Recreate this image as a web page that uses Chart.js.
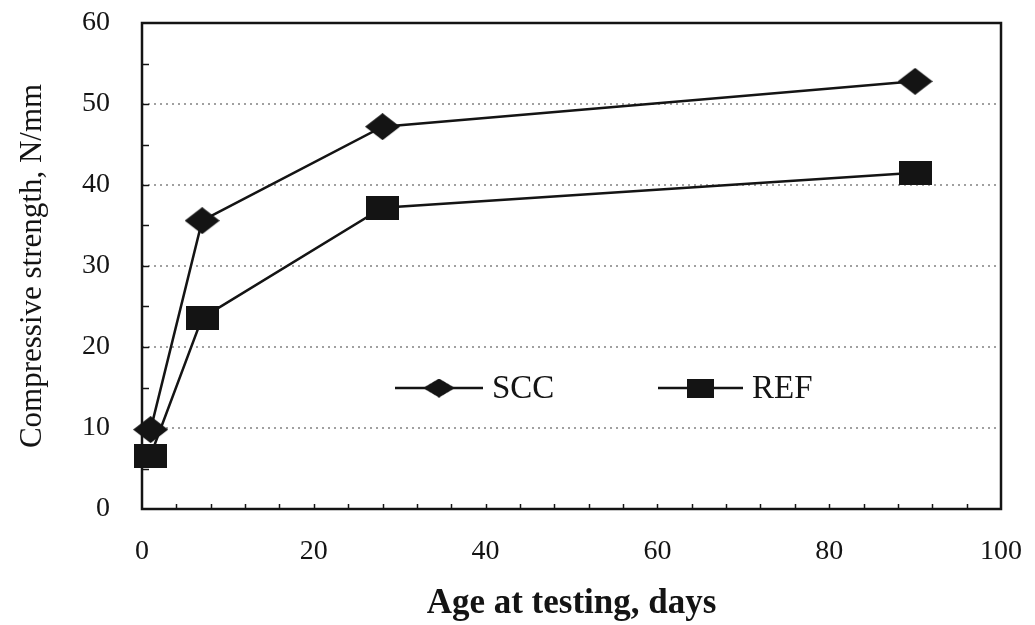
<!DOCTYPE html>
<html>
<head>
<meta charset="utf-8">
<script src="https://cdn.jsdelivr.net/npm/chart.js@4.4.1/dist/chart.umd.min.js"></script>
<style>
  html, body { margin: 0; padding: 0; background: #fff; }
  #wrap { width: 1035px; height: 625px; }
</style>
</head>
<body>
<div id="wrap"><canvas id="chart" width="1035" height="625"></canvas></div>
<script>
// Compressive strength vs age

const ageDays = [1, 7, 28, 90];
const sccStrength = [9.8, 35.6, 47.2, 52.8];
const refStrength = [6.6, 23.6, 37.2, 41.5];
const seriesNames = ['SCC', 'REF'];

const yTicks = [0, 10, 20, 30, 40, 50, 60];
const xTicks = [0, 20, 40, 60, 80, 100];

const INK = '#141414';
const SERIF = "'Liberation Serif', 'Times New Roman', serif";

// marker shapes look a bit wide in the original scan
function diamond(w, h){
  const c = document.createElement('canvas');
  c.width = w; c.height = h;
  const g = c.getContext('2d');
  g.fillStyle = INK;
  g.beginPath();
  g.moveTo(w/2, 0); g.lineTo(w, h/2); g.lineTo(w/2, h); g.lineTo(0, h/2);
  g.closePath(); g.fill();
  return c;
}
function block(w, h){
  const c = document.createElement('canvas');
  c.width = w; c.height = h;
  const g = c.getContext('2d');
  g.fillStyle = INK;
  g.fillRect(0, 0, w, h);
  return c;
}

const sccMarker = diamond(35, 27);
const refMarker = block(33, 24);

function toPoints(xs, ys){
  return xs.map((x, i) => ({ x, y: ys[i] }));
}

// frame + minor ticks pointing inwards
const framePlugin = {
  id: 'frame',
  beforeDatasetsDraw(chart){
    const { ctx, chartArea: a, scales: { x, y } } = chart;
    ctx.save();
    ctx.strokeStyle = INK;
    ctx.lineWidth = 1.5;
    for(let v = 5; v < 60; v += 5){
      const py = Math.round(y.getPixelForValue(v)) + 0.5;
      ctx.beginPath(); ctx.moveTo(a.left, py); ctx.lineTo(a.left + 7, py); ctx.stroke();
    }
    for(let v = 4; v < 100; v += 4){
      const px = Math.round(x.getPixelForValue(v)) + 0.5;
      ctx.beginPath(); ctx.moveTo(px, a.bottom); ctx.lineTo(px, a.bottom - 5); ctx.stroke();
    }
    ctx.lineWidth = 2.5;
    ctx.strokeRect(a.left, a.top, a.right - a.left, a.bottom - a.top);
    ctx.restore();
  }
};

// legend sits inside the plot, line - marker - line, then the label
const legendPlugin = {
  id: 'insideLegend',
  afterDatasetsDraw(chart){
    const { ctx } = chart;
    const items = [
      { x0: 395, x1: 483, y: 388, img: sccMarker, w: 32, h: 19, text: seriesNames[0], tx: 492 },
      { x0: 658, x1: 743, y: 388, img: refMarker, w: 27, h: 19, text: seriesNames[1], tx: 752 }
    ];
    ctx.save();
    items.forEach(it => {
      ctx.strokeStyle = INK;
      ctx.lineWidth = 2.5;
      ctx.beginPath(); ctx.moveTo(it.x0, it.y); ctx.lineTo(it.x1, it.y); ctx.stroke();
      const cx = (it.x0 + it.x1) / 2;
      ctx.drawImage(it.img, cx - it.w/2, it.y - it.h/2, it.w, it.h);
      ctx.fillStyle = INK;
      ctx.font = '33px ' + SERIF;
      ctx.textBaseline = 'middle';
      ctx.textAlign = 'left';
      ctx.fillText(it.text, it.tx, it.y + 1);
    });
    ctx.restore();
  }
};

new Chart(document.getElementById('chart'), {
  type: 'line',
  data: {
    datasets: [
      {
        label: seriesNames[0],
        data: toPoints(ageDays, sccStrength),
        borderColor: INK, borderWidth: 2.5,
        pointStyle: sccMarker, pointRadius: 14,
        tension: 0, clip: false
      },
      {
        label: seriesNames[1],
        data: toPoints(ageDays, refStrength),
        borderColor: INK, borderWidth: 2.5,
        pointStyle: refMarker, pointRadius: 14,
        tension: 0, clip: false
      }
    ]
  },
  options: {
    responsive: false,
    animation: false,
    events: [],
    layout: { autoPadding: false, padding: { left: 0, right: 34, top: 23, bottom: 0 } },
    plugins: { legend: { display: false }, tooltip: { enabled: false } },
    scales: {
      x: {
        type: 'linear', min: 0, max: 100,
        afterBuildTicks: s => { s.ticks = xTicks.map(v => ({ value: v })); },
        afterFit: s => { s.height = 116; s.paddingLeft = 0; s.paddingRight = 0; },
        grid: { display: false, drawTicks: false },
        border: { display: false },
        ticks: { color: INK, padding: 26, font: { family: SERIF, size: 28 } },
        title: {
          display: true, text: 'Age at testing, days', color: INK,
          padding: { top: 0, bottom: 0 },
          font: { family: SERIF, size: 35, weight: 'bold' }
        }
      },
      y: {
        min: 0, max: 60,
        afterBuildTicks: s => { s.ticks = yTicks.map(v => ({ value: v })); },
        afterFit: s => { s.width = 142; s.paddingTop = 0; s.paddingBottom = 0; },
        grid: {
          drawTicks: false,
          color: c => (c.tick && (c.tick.value === 0 || c.tick.value === 60)) ? 'rgba(0,0,0,0)' : '#a0a0a0',
          lineWidth: 2,
          borderDash: [2, 4]
        },
        border: { display: false, dash: [2, 4] },
        ticks: { color: INK, padding: 32, font: { family: SERIF, size: 28 } },
        title: {
          display: true, text: 'Compressive strength, N/mm', color: INK,
          padding: { top: 14, bottom: 0 },
          font: { family: SERIF, size: 31 }
        }
      }
    }
  },
  plugins: [framePlugin, legendPlugin]
});
</script>
</body>
</html>
